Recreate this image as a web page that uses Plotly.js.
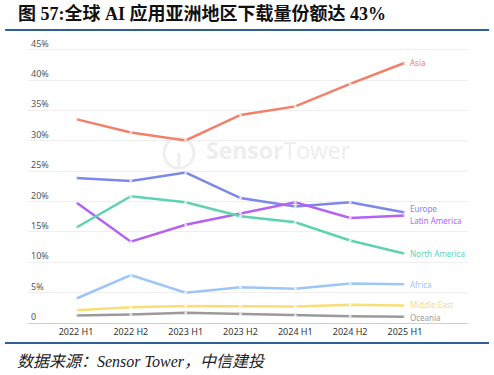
<!DOCTYPE html>
<html><head><meta charset="utf-8">
<script src="https://cdn.plot.ly/plotly-3.0.1.min.js"></script>
<style>
html,body{margin:0;padding:0;background:#fff;}
#wrap{position:relative;width:494px;height:375px;}
#chart{width:494px;height:375px;}
#rule{position:absolute;left:5px;top:342px;width:484px;height:2px;background:#2F5F94;z-index:10;pointer-events:none;}
</style>
</head><body><div id="wrap"><div id="chart"></div><div id="rule"></div></div>
<script>
const categories = ["2022 H1","2022 H2","2023 H1","2023 H2","2024 H1","2024 H2","2025 H1"];
const asia         = [33.6, 31.4, 30.1, 34.3, 35.7, 39.4, 42.9];
const europe       = [23.9, 23.4, 24.8, 20.6, 19.2, 19.9, 18.2];
const latinAmerica = [19.9, 13.4, 16.2, 18.1, 19.9, 17.3, 17.7];
const northAmerica = [15.7, 20.9, 19.9, 17.6, 16.6, 13.6, 11.4];
const africa       = [4.0, 7.9, 5.0, 5.9, 5.65, 6.5, 6.4];
const middleEast   = [2.1, 2.6, 2.8, 2.8, 2.7, 3.0, 2.9];
const oceania      = [1.25, 1.4, 1.7, 1.5, 1.25, 1.1, 1.05];
const yTickVals = [0,5,10,15,20,25,30,35,40,45];
const yTickText = ["0","5%","10%","15%","20%","25%","30%","35%","40%","45%"];

const series = [
  {name:"Asia", y:asia, color:"#F27F69", up:0},
  {name:"Europe", y:europe, color:"#7C87EA", up:4},
  {name:"Latin America", y:latinAmerica, color:"#B562F4", up:-5},
  {name:"North America", y:northAmerica, color:"#5ED2B2", up:0},
  {name:"Africa", y:africa, color:"#9DC6F6", up:0},
  {name:"Middle East", y:middleEast, color:"#F9DE78", up:1},
  {name:"Oceania", y:oceania, color:"#9A9A9A", up:-1}
];

const traces = series.map(s => ({
  type:"scatter", mode:"lines+markers", x:categories, y:s.y, name:s.name,
  line:{color:s.color, width:2.5},
  marker:{size:3, color:"rgba(255,255,255,0.7)"},
  hoverinfo:"skip", showlegend:false
}));

const annotations = series.map(s => ({
  x: categories[categories.length-1], y: s.y[s.y.length-1], xref:"x", yref:"y",
  text: s.name, showarrow:false, xanchor:"left", yanchor:"middle", xshift:3, yshift:s.up,
  font:{family:"Noto Sans, Open Sans, sans-serif", size:8, color:s.color}
}));

// plot area: x 28..468 (440px), y 28..345 (317px); value 0 sits at y=323
annotations.push({
  xref:"paper", yref:"paper", x:-0.0273, y:1.0442, xanchor:"left", yanchor:"middle",
  text:"<b>图 57:全球 AI 应用亚洲地区下载量份额达 43%</b>", showarrow:false,
  font:{family:"Liberation Serif, Noto Sans CJK SC, serif", size:18, color:"#111"}
});
annotations.push({
  xref:"paper", yref:"paper", x:-0.0295, y:-0.0505, xanchor:"left", yanchor:"middle",
  text:"<i>数据来源：Sensor Tower，中信建投</i>", showarrow:false,
  font:{family:"Liberation Serif, Noto Sans CJK SC, serif", size:16, color:"#222"}
});
annotations.push({
  xref:"paper", yref:"paper", x:0.57, y:0.615, xanchor:"center", yanchor:"middle",
  text:"<b>Sensor</b>Tower", showarrow:false,
  font:{family:"Open Sans, sans-serif", size:23, color:"#eeeeee"}
});

const layout = {
  width:494, height:375,
  margin:{l:28, r:26, t:28, b:30},
  paper_bgcolor:"#fff", plot_bgcolor:"#fff",
  font:{family:"Noto Sans, Open Sans, sans-serif", color:"#444"},
  xaxis:{
    type:"category", range:[-0.876, 7.15], showgrid:false, zeroline:false,
    anchor:"free", position:0.0694,
    showline:true, linecolor:"#cfcfcf", linewidth:1, ticks:"",
    tickfont:{size:9, color:"#333"}, fixedrange:true
  },
  yaxis:{
    range:[-3.626, 48.62], tickvals:yTickVals, ticktext:yTickText,
    ticklabelposition:"inside top", showgrid:true, gridcolor:"#efefef", gridwidth:1,
    zeroline:false, showline:false, ticks:"",
    tickfont:{size:9, color:"#555"}, fixedrange:true
  },
  shapes:[
    {type:"rect", xref:"paper", yref:"paper", x0:-0.052, x1:1.048, y0:0.9905, y1:0.9968, fillcolor:"#2F5F94", line:{width:0}, layer:"above"},
    {type:"circle", xref:"paper", yref:"paper", x0:0.309, x1:0.377, y0:0.558, y1:0.653, line:{color:"#efefef", width:3}, layer:"below"},
    {type:"line", xref:"paper", yref:"paper", x0:0.343, x1:0.343, y0:0.558, y1:0.606, line:{color:"#efefef", width:3}, layer:"below"}
  ],
  annotations:annotations
};
Plotly.newPlot("chart", traces, layout, {staticPlot:true, displayModeBar:false});
</script></body></html>
